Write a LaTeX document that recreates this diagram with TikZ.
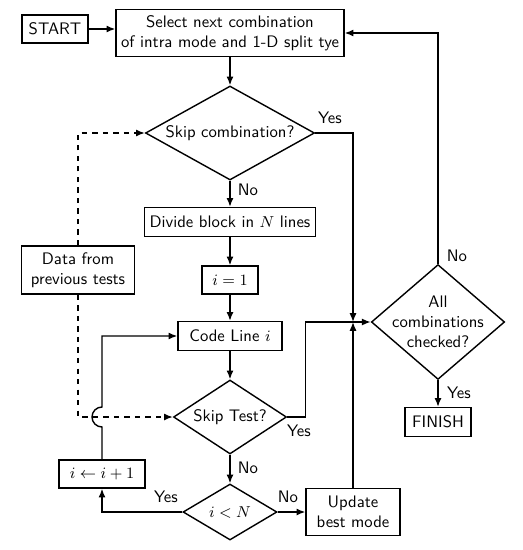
\documentclass[tikz,border=0pt]{standalone}
\usepackage{amsmath}
\usetikzlibrary{arrows.meta, shapes.geometric, calc}

\begin{document}
\begin{tikzpicture}[font=\sffamily\fontsize{9.5pt}{11.5pt}\selectfont, line width=0.8pt,
  box/.style={draw, align=center, inner sep=2pt},
  decision/.style={draw, diamond, align=center, inner sep=0pt},
  flow/.style={-{Latex[length=5pt, width=4pt]}},
  answer/.style={inner sep=1pt}]
  \useasboundingbox (0,0) rectangle (10.44,-11.0);
  % process boxes
  \node[box, minimum width=1.32cm, minimum height=0.56cm] (start) at (1.10,-0.58) {START};
  \node[box, minimum width=4.56cm, minimum height=0.94cm] (select) at (4.60,-0.66)
    {Select next combination\\of intra mode and 1-D split tye};
  \node[box, minimum width=3.42cm, minimum height=0.58cm] (divide) at (4.60,-4.44) {Divide block in $N$ lines};
  \node[box, minimum width=1.12cm, minimum height=0.56cm] (init) at (4.60,-5.60) {$i=1$};
  \node[box, minimum width=2.08cm, minimum height=0.58cm] (code) at (4.60,-6.72) {Code Line $i$};
  \node[box, minimum width=2.26cm, minimum height=0.96cm] (data) at (1.56,-5.40) {Data from\\previous tests};
  \node[box, minimum width=1.72cm, minimum height=0.56cm] (inc) at (2.04,-9.48) {$i \leftarrow i+1$};
  \node[box, minimum width=1.88cm, minimum height=0.94cm] (update) at (7.06,-10.24) {Update\\best mode};
  \node[box, minimum width=1.32cm, minimum height=0.58cm] (finish) at (8.76,-8.44) {FINISH};
  % decisions
  \node[decision, aspect=1.8, minimum width=3.38cm, minimum height=1.88cm] (skipcomb) at (4.60,-2.66) {Skip combination?};
  \node[decision, aspect=1.53, minimum width=2.26cm, minimum height=1.48cm] (skiptest) at (4.60,-8.34) {Skip Test?};
  \node[decision, aspect=1.68, minimum width=1.88cm, minimum height=1.12cm] (less) at (4.60,-10.24) {$i<N$};
  \node[decision, aspect=1.16, inner sep=-2.5pt, minimum width=2.64cm, minimum height=2.28cm] (all) at (8.76,-6.44) {All\\combinations\\checked?};
  % answers
  \node[answer] (yescomb) at (6.60,-2.36) {Yes};
  \node[answer] (nocomb) at (4.96,-3.80) {No};
  \node[answer] (noall) at (9.14,-5.12) {No};
  \node[answer] (yesall) at (9.18,-7.86) {Yes};
  \node[answer] (yestest) at (5.98,-8.62) {Yes};
  \node[answer] (notest) at (4.96,-9.36) {No};
  \node[answer] (yesless) at (3.32,-9.94) {Yes};
  \node[answer] (noless) at (5.76,-9.94) {No};
  \coordinate (meet) at (update.north |- all.west);
  \coordinate (turn) at (update.west |- all.west);
  % connectors
  \draw[flow] (start.east) -- (start.east -| select.west);
  \draw[flow] (select) -- (skipcomb);
  \draw[flow] (skipcomb) -- (divide);
  \draw[flow] (divide) -- (init);
  \draw[flow] (init) -- (code);
  \draw[flow] (code) -- (skiptest);
  \draw[flow] (skiptest) -- (less);
  \draw[flow] (less.west) -| (inc.south);
  \draw[flow] (inc.north) -- ($(inc.north |- skiptest.west)+(0,-0.2)$)
    arc[start angle=270, end angle=90, radius=0.2cm] |- (code.west);
  \draw[flow] (less.east) -- (update.west);
  \draw[flow] (update.north) -- (meet);
  \draw[flow] (skipcomb.east) -| (meet);
  \draw[flow] (skiptest.east) -| (turn) -- (all.west);
  \draw[flow] (all.north) |- (select.east);
  \draw[flow] (all.south) -- (finish.north);
  \draw[flow, dashed] (data.north) |- (skipcomb.west);
  \draw[flow, dashed] (data.south) |- (skiptest.west);
\end{tikzpicture}
\end{document}
